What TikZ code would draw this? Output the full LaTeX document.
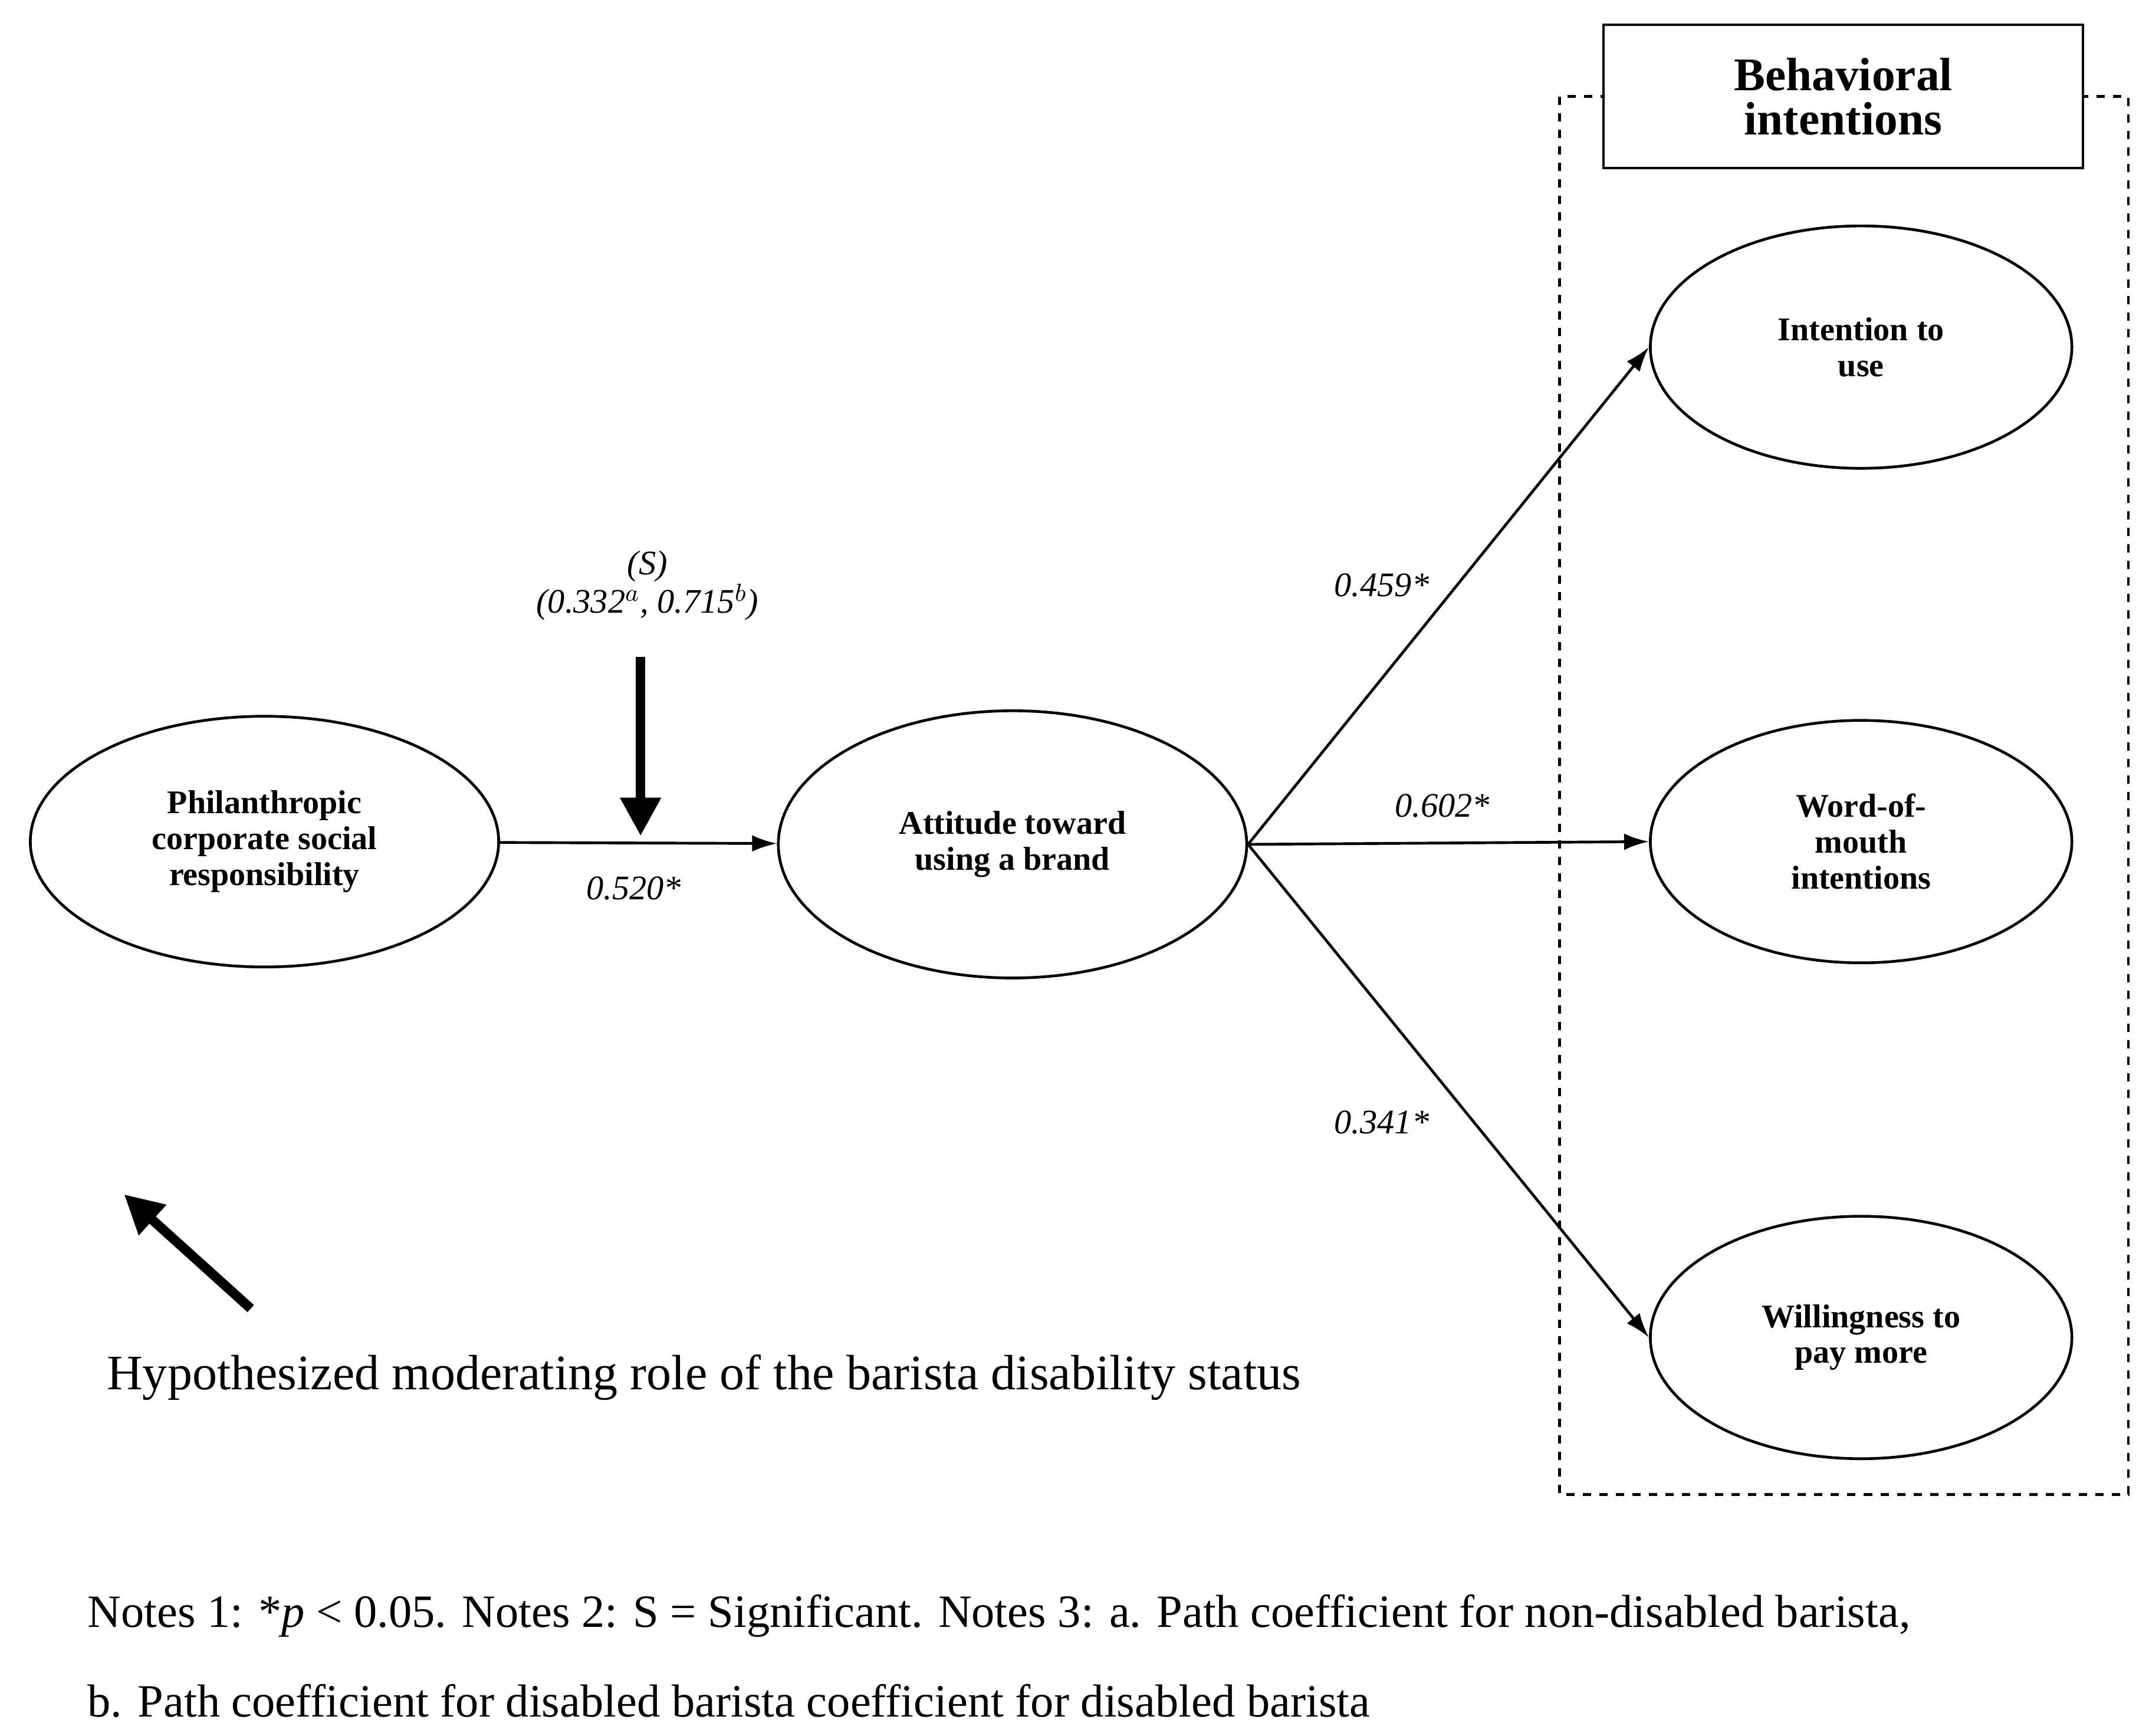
\documentclass[tikz,border=0pt]{standalone}
\usepackage{fontspec}
\setmainfont{Liberation Serif}
\usetikzlibrary{shapes.geometric,arrows.meta}
\tikzset{every picture/.style={line width=1pt}}
\tikzset{
  construct/.style={draw,ellipse,minimum width=306pt*0.5,minimum height=176pt*0.5,align=center,font=\fontsize{12}{13}\selectfont\bfseries},
  path/.style={-{Latex[length=9pt,width=6pt]}},
  coef/.style={font=\fontsize{12.5}{14}\selectfont\itshape},
  bigarrow/.style={-{Triangle[length=14pt,width=14pt]},line width=3.5pt}
}
\begin{document}
\begin{tikzpicture}[x=0.5pt,y=-0.5pt]
\useasboundingbox (0,0) rectangle (1560,1260);

%Dashed group
\draw[dashed] (1132,70) rectangle (1545,1085);
\node[draw,fill=white,minimum width=174pt,minimum height=52pt,align=center,font=\fontsize{17}{16}\selectfont\bfseries] (bi) at (1338,70) {Behavioral\\intentions};

% Text Node
\node[construct,minimum width=170pt,minimum height=91pt] (pcsr) at (192,611) {Philanthropic\\corporate social\\responsibility};
\node[construct,minimum width=170pt,minimum height=97pt] (att) at (735,613) {Attitude toward\\using a brand};
\node[construct] (itu) at (1351,252) {Intention to\\use};
\node[construct] (wom) at (1351,611) {Word-of-\\mouth\\intentions};
\node[construct] (wtp) at (1351,971) {Willingness to\\pay more};

%Paths
\draw[path] (pcsr) -- (att);
\draw[path] (att.east) -- (itu.west);
\draw[path] (att.east) -- (wom.west);
\draw[path] (att.east) -- (wtp.west);

\node[coef] (c1) at (460,645) {0.520*};
\node[coef] (c2) at (1003,425) {0.459*};
\node[coef] (c3) at (1047,585) {0.602*};
\node[coef] (c4) at (1003,815) {0.341*};
\node[coef,align=center] (mod) at (470,425) {(S)\\(0.332$^{a}$, 0.715$^{b}$)};

%Moderator arrows
\coordinate (mtop) at (465,477);
\coordinate (mbot) at (465,607);
\draw[bigarrow] (mtop) -- (mbot);
\coordinate (ltail) at (182,950);
\coordinate (lhead) at (90,867);
\draw[bigarrow] (ltail) -- (lhead);

\node[font=\fontsize{18}{20}\selectfont] (hyp) at (511,1000) {Hypothesized moderating role of the barista disability status};
\node[anchor=west,font=\fontsize{16.8}{18}\selectfont] (n1) at (56,1173) {Notes 1: *\textit{p} < 0.05. Notes 2: S = Significant. Notes 3: a. Path coefficient for non-disabled barista,};
\node[anchor=west,font=\fontsize{16.8}{18}\selectfont] (n2) at (56,1235) {b. Path coefficient for disabled barista coefficient for disabled barista};
\end{tikzpicture}
\end{document}
